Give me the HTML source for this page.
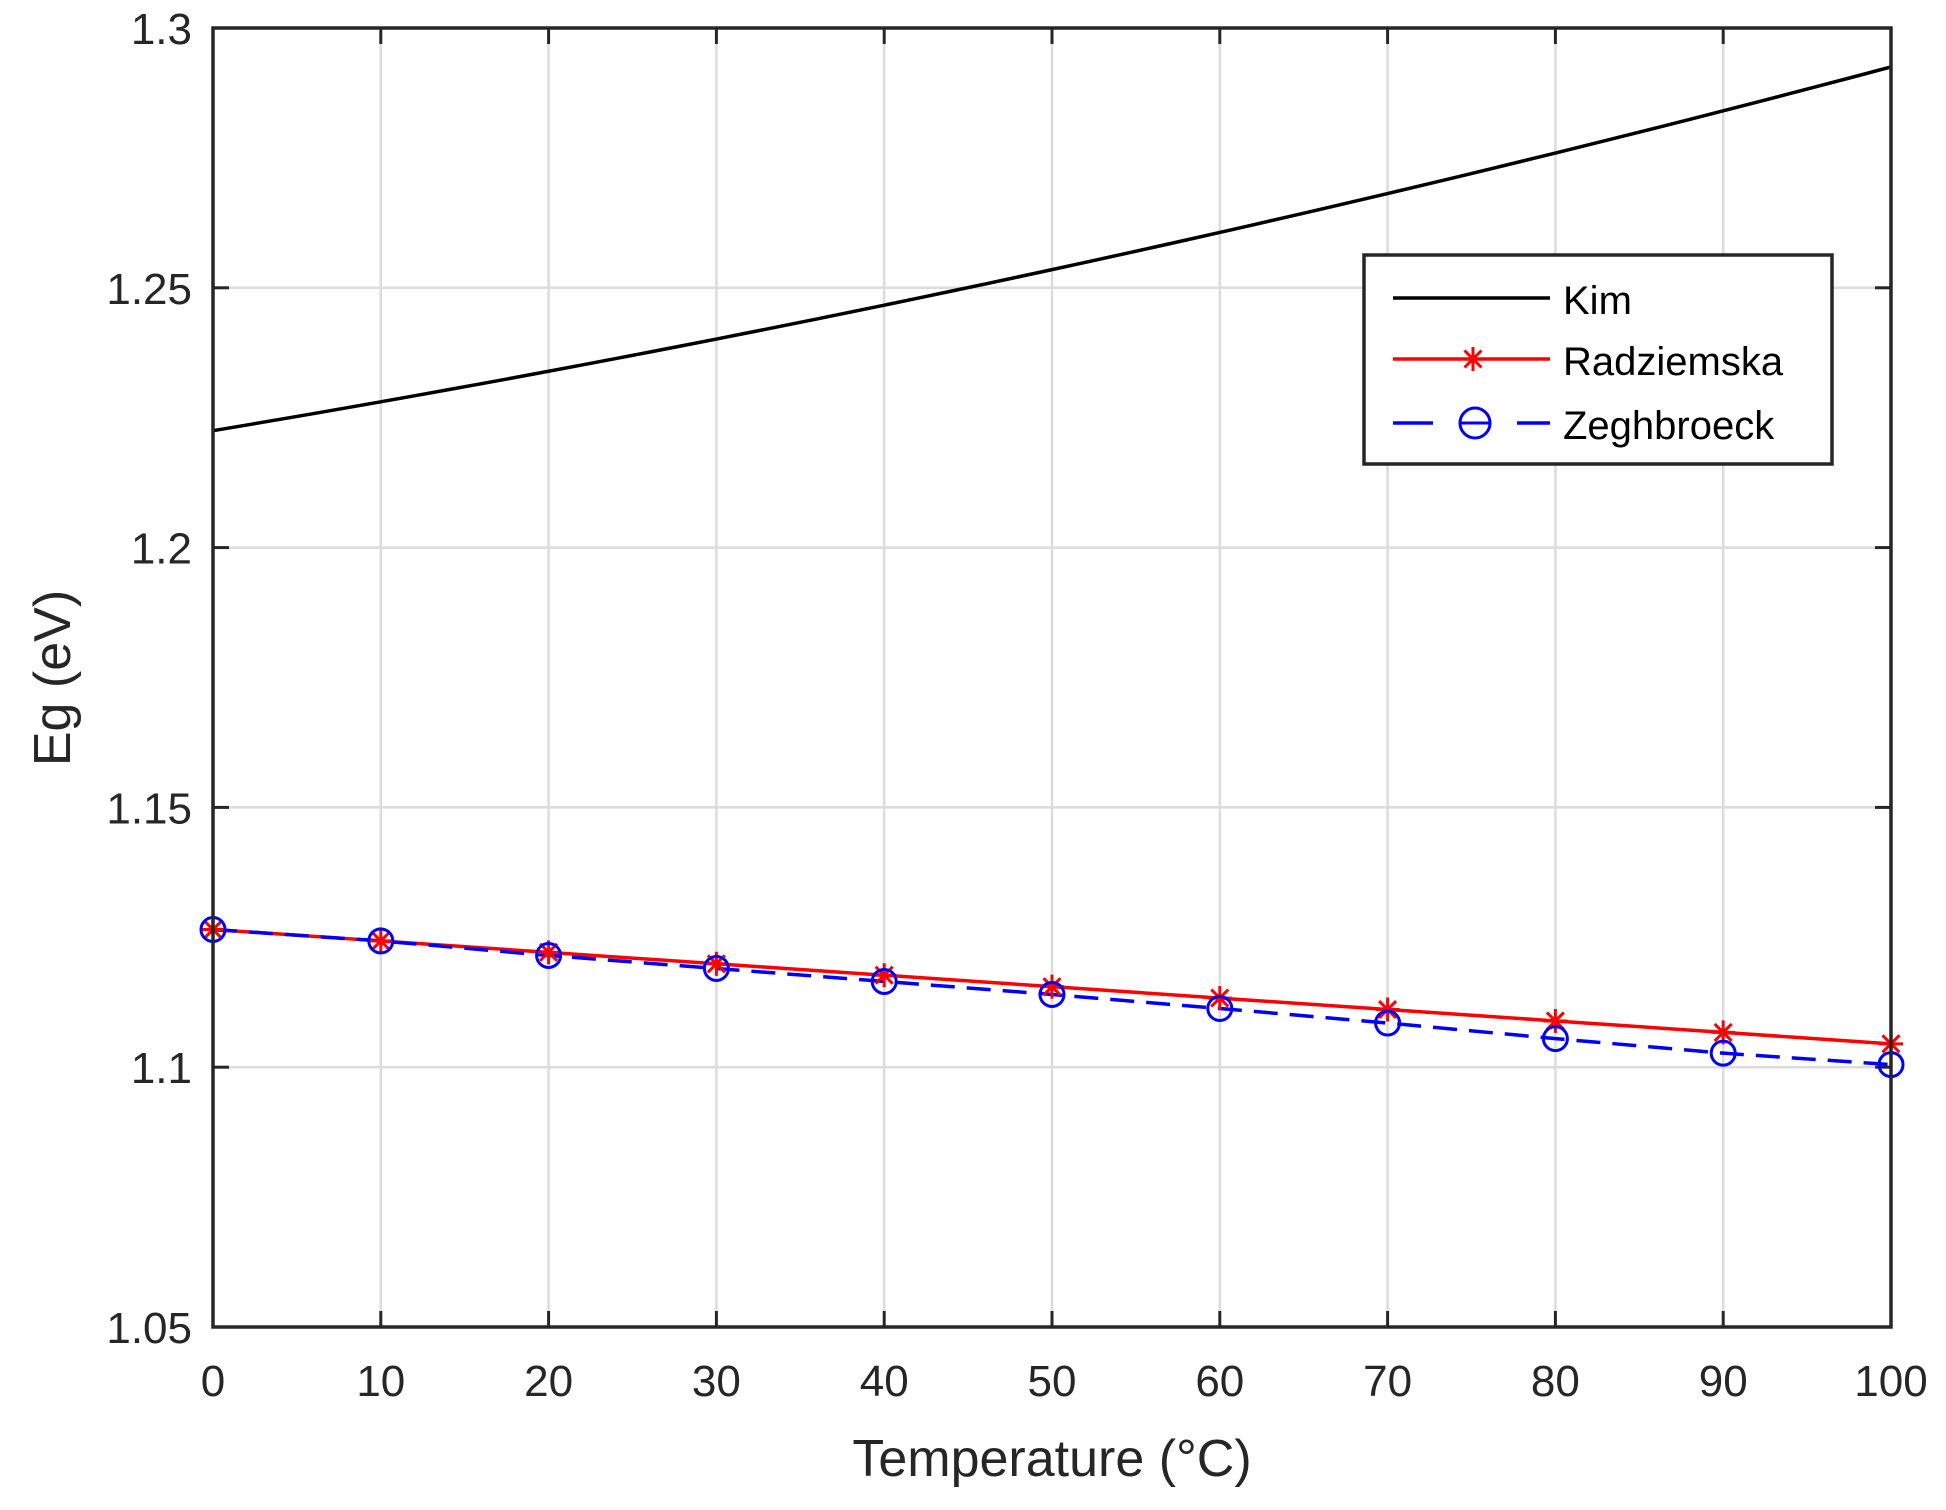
<!DOCTYPE html><html><head><style>body{margin:0;background:#fff}svg{display:block}text{font-family:"Liberation Sans",Arial,sans-serif;fill:#262626}</style></head><body>
<svg id="s" width="1946" height="1510" xmlns="http://www.w3.org/2000/svg"></svg>
<script>
const L=213,R=1891,T=28,B=1327;
const X=v=>L+(R-L)*v/100, Y=v=>B-(B-T)*(v-1.05)/0.25;
let h='';
for(let i=1;i<10;i++)h+=`<line x1="${X(i*10)}" y1="${T}" x2="${X(i*10)}" y2="${B}" stroke="#dcdcdc" stroke-width="2.5"/>`;
for(let i=1;i<5;i++){let y=Y(1.05+i*0.05);h+=`<line x1="${L}" y1="${y}" x2="${R}" y2="${y}" stroke="#dcdcdc" stroke-width="2.5"/>`;}
for(let i=0;i<=10;i++){let x=X(i*10);h+=`<line x1="${x}" y1="${B}" x2="${x}" y2="${B-16}" stroke="#262626" stroke-width="3"/><line x1="${x}" y1="${T}" x2="${x}" y2="${T+16}" stroke="#262626" stroke-width="3"/><text x="${x}" y="1396" font-size="44" text-anchor="middle">${i*10}</text>`;}
const yl=['1.05','1.1','1.15','1.2','1.25','1.3'];
for(let i=0;i<6;i++){let y=Y(1.05+i*0.05);h+=`<line x1="${L}" y1="${y}" x2="${L+16}" y2="${y}" stroke="#262626" stroke-width="3"/><line x1="${R}" y1="${y}" x2="${R-16}" y2="${y}" stroke="#262626" stroke-width="3"/><text x="192" y="${y+16}" font-size="44" text-anchor="end">${yl[i]}</text>`;}
let kp=[];for(let t=0;t<=100;t+=2)kp.push(X(t)+','+Y(1.2225+0.00054*t+1.6e-6*t*t));
const zeg=[1.1265,1.1243,1.1215,1.119,1.1165,1.114,1.1113,1.1085,1.1055,1.1027,1.1005];
const rad=zeg.map((_,i)=>1.1265-0.022*i/10);
const pts=a=>a.map((v,i)=>X(i*10)+','+Y(v)).join(' ');
h+=`<polyline points="${kp.join(' ')}" fill="none" stroke="#000" stroke-width="3.5"/>`;
h+=`<polyline points="${pts(rad)}" fill="none" stroke="#f00" stroke-width="3.5"/>`;
h+=`<polyline points="${pts(zeg)}" fill="none" stroke="#00f" stroke-width="3.5" stroke-dasharray="24,12"/>`;
const ast=(x,y)=>{let r=12,d=8.5;return `<g stroke="#f00" stroke-width="3"><line x1="${x-r}" y1="${y}" x2="${x+r}" y2="${y}"/><line x1="${x}" y1="${y-r}" x2="${x}" y2="${y+r}"/><line x1="${x-d}" y1="${y-d}" x2="${x+d}" y2="${y+d}"/><line x1="${x-d}" y1="${y+d}" x2="${x+d}" y2="${y-d}"/></g>`;};
rad.forEach((v,i)=>h+=ast(X(i*10),Y(v)));
zeg.forEach((v,i)=>h+=`<circle cx="${X(i*10)}" cy="${Y(v)}" r="12" fill="none" stroke="#00f" stroke-width="3"/>`);
h+=`<rect x="${L}" y="${T}" width="${R-L}" height="${B-T}" fill="none" stroke="#262626" stroke-width="3.5"/>`;
h+=`<rect x="1364" y="255" width="468" height="209" fill="#fff" stroke="#262626" stroke-width="3.5"/>`;
h+=`<line x1="1393" y1="298" x2="1550" y2="298" stroke="#000" stroke-width="3.5"/><text x="1563" y="314" font-size="40" style="fill:#000">Kim</text>`;
h+=`<line x1="1393" y1="359" x2="1550" y2="359" stroke="#f00" stroke-width="3.5"/>${ast(1473,359)}<text x="1563" y="375" font-size="40" style="fill:#000">Radziemska</text>`;
h+=`<line x1="1393" y1="423" x2="1433" y2="423" stroke="#00f" stroke-width="3.5"/><line x1="1517" y1="423" x2="1550" y2="423" stroke="#00f" stroke-width="3.5"/><circle cx="1475" cy="423" r="15" fill="none" stroke="#00f" stroke-width="3"/><line x1="1460" y1="423" x2="1490" y2="423" stroke="#00f" stroke-width="3"/><text x="1563" y="439" font-size="40" style="fill:#000">Zeghbroeck</text>`;
h+=`<text x="1052" y="1476" font-size="52" text-anchor="middle">Temperature (°C)</text>`;
h+=`<text transform="translate(70,678) rotate(-90)" font-size="52" text-anchor="middle">Eg (eV)</text>`;
document.getElementById('s').innerHTML=h;
</script></body></html>
